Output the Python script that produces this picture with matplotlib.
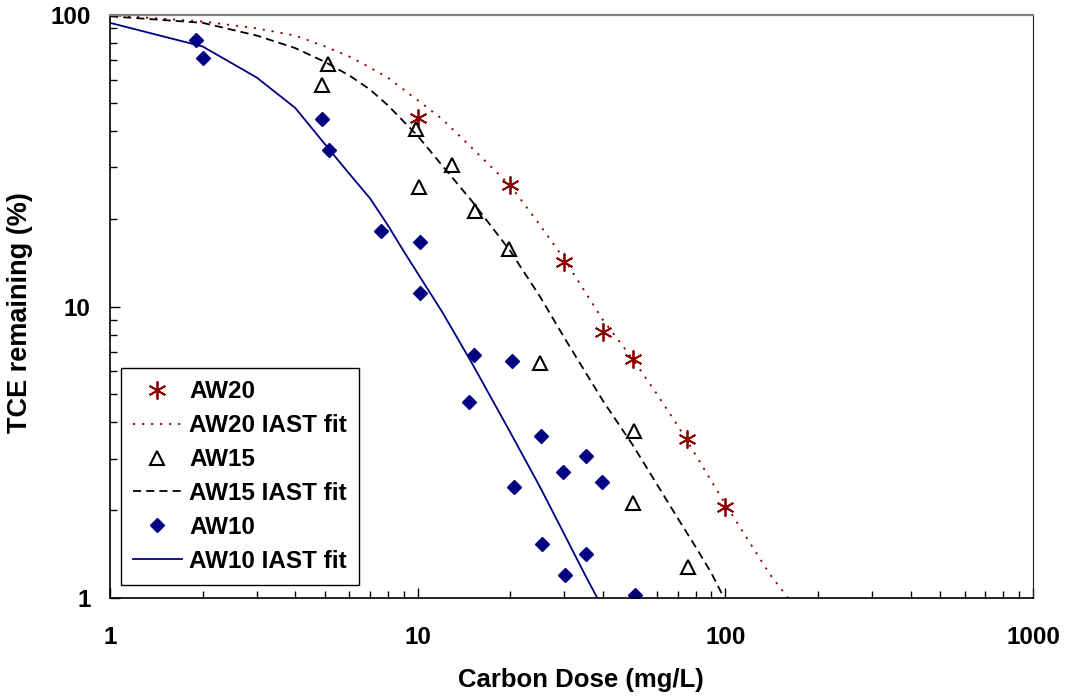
'''TCE remaining vs carbon dose for three activated carbons, with IAST fits'''

import numpy as np
import matplotlib
matplotlib.use('Agg')
from matplotlib.pyplot import figure
from matplotlib.ticker import FixedLocator, LogLocator, NullFormatter, FixedFormatter

# measured points (carbon dose mg/L, TCE remaining %)
aw20_dose = [10, 20, 30, 40, 50, 75, 100]
aw20_tce = [44.5, 26.2, 14.2, 8.2, 6.6, 3.5, 2.05]

aw15_dose = [5.1, 4.9, 9.9, 10.1, 12.9, 15.4, 19.8, 25, 50.5, 50, 75.5]
aw15_tce = [67.8, 57.4, 40.5, 25.8, 30.5, 21.3, 15.8, 6.4, 3.75, 2.12, 1.28]

aw10_dose = [1.9, 2.0, 4.9, 5.15, 7.6, 10.2, 10.2, 15.2, 20.2, 14.7,
             25.2, 35.3, 29.7, 39.7, 20.6, 25.4, 35.3, 30.1, 50.8]
aw10_tce = [82, 71, 43.9, 34.3, 18.2, 16.7, 11.1, 6.8, 6.5, 4.7,
            3.6, 3.08, 2.7, 2.5, 2.4, 1.53, 1.42, 1.2, 1.02]

# IAST model curves
aw20_fit_dose = [1, 2, 3, 4, 5, 6, 7, 8, 10, 12, 15, 20, 25, 30, 40, 50, 60, 70, 80, 100, 120, 140, 160, 170]
aw20_fit_tce = [100, 95, 90, 85, 78, 72, 66, 61, 51, 44, 35, 26, 19, 14.5, 9.0, 6.6, 5.0, 3.9, 3.1, 2.1, 1.55, 1.2, 1.0, 0.92]

aw15_fit_dose = [1, 2, 3, 4, 5, 6, 7, 8, 10, 12, 15, 20, 25, 30, 40, 50, 60, 70, 80, 90, 100, 105]
aw15_fit_tce = [99, 94, 85, 77, 69, 62, 55.5, 49, 38.5, 30.5, 23, 15.5, 10.8, 7.8, 4.75, 3.35, 2.45, 1.88, 1.5, 1.22, 0.98, 0.9]

aw10_fit_dose = [1, 2, 3, 4, 5, 6, 7, 8, 9, 10, 12, 15, 20, 25, 30, 35, 40]
aw10_fit_tce = [94, 78, 61, 48, 36, 28.5, 23.5, 19, 15.5, 13, 9.6, 6.4, 3.7, 2.4, 1.65, 1.2, 0.92]

x_ticks = [1, 10, 100, 1000]
y_ticks = [1, 10, 100]

DARKRED = '#8b0000'
NAVY = '#000080'


def plot(name='out.png'):
    fig = figure(figsize=(10.68, 6.96), dpi=100)
    ax = fig.add_axes([110/1068, 98/696, 923/1068, 583/696])
    ax.set_xscale('log')
    ax.set_yscale('log')

    ax.plot(aw20_dose, aw20_tce, linestyle='none', marker=(6, 2, 0), ms=13,
            mec=DARKRED, mew=1.3, label='AW20')
    ax.plot(aw20_fit_dose, aw20_fit_tce, color=DARKRED, lw=1.3,
            dashes=(1.2, 3.8), label='AW20 IAST fit')
    ax.plot(aw15_dose, aw15_tce, linestyle='none', marker='^', ms=10,
            mfc='white', mec='black', mew=1.5, label='AW15')
    ax.plot(aw15_fit_dose, aw15_fit_tce, color='black', lw=1.3,
            dashes=(4.5, 2.8), label='AW15 IAST fit')
    ax.plot(aw10_dose, aw10_tce, linestyle='none', marker='D', ms=6.8,
            mfc=NAVY, mec=NAVY, label='AW10')
    ax.plot(aw10_fit_dose, aw10_fit_tce, color=NAVY, lw=1.3, label='AW10 IAST fit')

    ax.set_xlim(1, 1000)
    ax.set_ylim(1, 100)

    ax.xaxis.set_major_locator(FixedLocator(x_ticks))
    ax.xaxis.set_major_formatter(FixedFormatter([str(t) for t in x_ticks]))
    ax.yaxis.set_major_locator(FixedLocator(y_ticks))
    ax.yaxis.set_major_formatter(FixedFormatter([str(t) for t in y_ticks]))
    for axis in (ax.xaxis, ax.yaxis):
        axis.set_minor_locator(LogLocator(base=10, subs=np.arange(2, 10)))
        axis.set_minor_formatter(NullFormatter())

    ax.tick_params(axis='x', which='both', direction='in', pad=20, labelsize=17.5)
    ax.tick_params(axis='y', which='both', direction='in', pad=14, labelsize=17.5)
    ax.tick_params(which='major', length=7, width=1)
    ax.tick_params(which='minor', length=5, width=1)
    for lab in ax.get_xticklabels() + ax.get_yticklabels():
        lab.set_fontweight('bold')

    ax.spines['top'].set_color('#808080')
    ax.spines['top'].set_linewidth(1.6)
    ax.spines['right'].set_color('#202020')
    for s in ('left', 'bottom'):
        ax.spines[s].set_color('black')
        ax.spines[s].set_linewidth(1.2)

    ax.set_xlabel('Carbon Dose (mg/L)', fontsize=18.5, fontweight='bold')
    ax.set_ylabel('TCE remaining (%)', fontsize=19.5, fontweight='bold')
    ax.xaxis.set_label_coords(0.51, -0.12)
    ax.yaxis.set_label_coords(-0.083, 0.49)

    leg = ax.legend(loc='lower left', bbox_to_anchor=(11/923, 13/583),
                    borderaxespad=0, frameon=True, fancybox=False,
                    edgecolor='black', framealpha=1,
                    prop={'weight': 'bold', 'size': 17.5},
                    handlelength=2.0, handletextpad=0.3, labelspacing=0.45,
                    borderpad=0.5)
    leg.get_frame().set_linewidth(1.0)

    fig.savefig(name, dpi=100)


if __name__ == '__main__':
    import matplotlib.pyplot as plt
    plt.rcParams['font.family'] = ['Liberation Sans', 'DejaVu Sans']
    plot()
